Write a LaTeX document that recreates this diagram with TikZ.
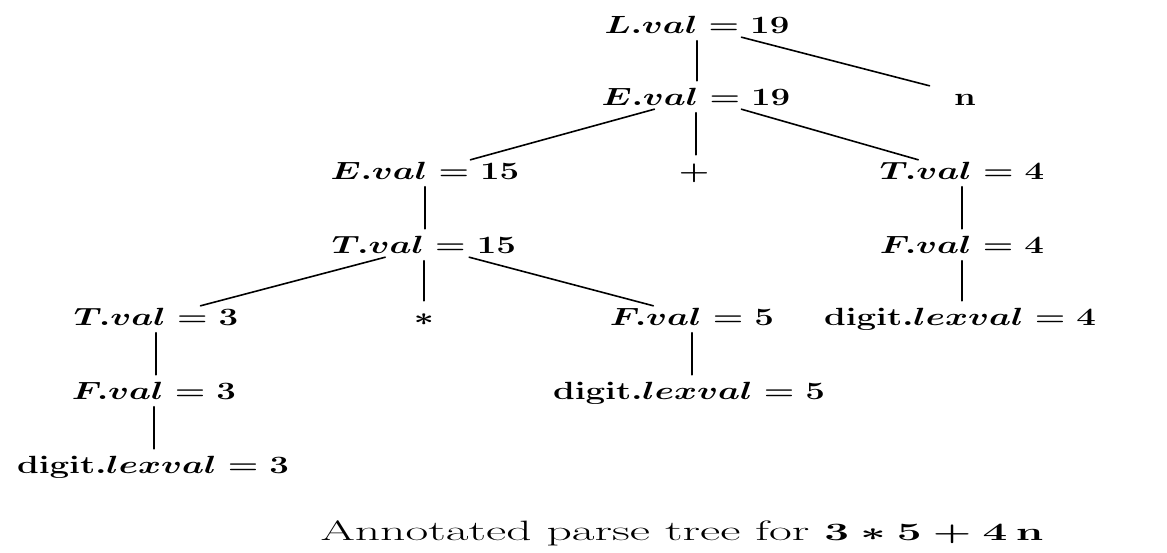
\documentclass[tikz,border=0pt]{standalone}
\usetikzlibrary{calc}
% labels are set in bold math, stretched horizontally
\newcommand\lblt[1]{\scalebox{1.4}[1]{\boldmath$#1$}}
\begin{document}
\begin{tikzpicture}[x=1pt,y=-1pt,
  lab/.style={anchor=base, inner sep=0pt, text height=19pt, text depth=4pt,
    font=\fontsize{24.5}{29}\selectfont},
  edge/.style={line width=1.6pt, line cap=round},
  vedge/.style={edge, shorten <=3.5pt, shorten >=5pt}]
\useasboundingbox (0,0) rectangle (1167,552);

% parse tree nodes, one row per baseline
\node[lab] (L)    at (697,33)    {\lblt{L.val = 19}};
\node[lab] (E0)   at (696,105)   {\lblt{E.val = 19}};
\node[lab] (n)    at (965,105)   {\lblt{\mathbf{n}}};
\node[lab] (E1)   at (425,179)   {\lblt{E.val = 15}};
\node[lab] (plus) at (694,179)   {\lblt{+}};
\node[lab] (T0)   at (962,179)   {\lblt{T.val = 4}};
\node[lab] (T1)   at (424,253)   {\lblt{T.val = 15}};
\node[lab] (F0)   at (962,253)   {\lblt{F.val = 4}};
\node[lab] (T2)   at (156,325)   {\lblt{T.val = 3}};
\node[lab] (star) at (424,325)   {\lblt{*}};
\node[lab] (F1)   at (692,325)   {\lblt{F.val = 5}};
\node[lab] (D0)   at (960,325)   {\lblt{\mathbf{digit}.lexval = 4}};
\node[lab] (F2)   at (154,399)   {\lblt{F.val = 3}};
\node[lab] (D1)   at (689,399)   {\lblt{\mathbf{digit}.lexval = 5}};
\node[lab] (D2)   at (153,473)   {\lblt{\mathbf{digit}.lexval = 3}};

% caption
\node[anchor=base, inner sep=0pt, font=\fontsize{28}{32}\selectfont] (cap) at (682,540)
  {\scalebox{1.77}[1]{Annotated parse tree for {\boldmath$3*5+4\,\mathbf{n}$}}};

% vertical edges
\draw[vedge] (L.south)  -- (L.south |- E0.north);
\draw[vedge] (E0.south) -- (E0.south |- plus.north);
\draw[vedge] (E1.south) -- (E1.south |- T1.north);
\draw[vedge] (T1.south) -- (T1.south |- star.north);
\draw[vedge] (T0.south) -- (T0.south |- F0.north);
\draw[vedge] (F0.south) -- (F0.south |- D0.north);
\draw[vedge] (T2.south) -- (T2.south |- F2.north);
\draw[vedge] (F2.south) -- (F2.south |- D2.north);
\draw[vedge] (F1.south) -- (F1.south |- D1.north);

% slanted edges
\draw[edge] ($(L.south west)!0.74!(L.south east)$)   -- ($(n.north west)!-1.1!(n.north east)$);
\draw[edge] ($(E0.south west)!0.28!(E0.south east)$) -- ($(E1.north west)!0.74!(E1.north east)$);
\draw[edge] ($(E0.south west)!0.74!(E0.south east)$) -- ($(T0.north west)!0.235!(T0.north east)$);
\draw[edge] ($(T1.south west)!0.29!(T1.south east)$) -- ($(T2.north west)!0.77!(T2.north east)$);
\draw[edge] ($(T1.south west)!0.745!(T1.south east)$) -- ($(F1.north west)!0.265!(F1.north east)$);
\end{tikzpicture}
\end{document}
